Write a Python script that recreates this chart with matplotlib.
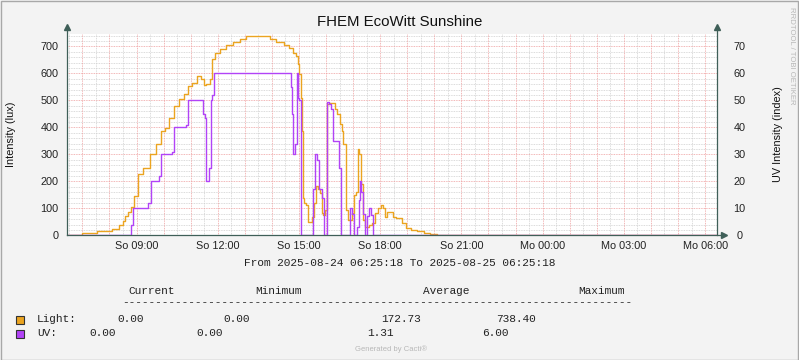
import matplotlib
matplotlib.use("Agg")
import matplotlib.pyplot as plt
from matplotlib.patches import Rectangle
import numpy as np

# time axis in hours since Sunday 00:00 (06:25:18 -> 06:25:18 next day)
t_start = 6 + 25.3 / 60
t_end = t_start + 24

light_t = [t_start, 6.79, 7.16, 7.90, 8.27, 8.46, 8.53, 8.64, 8.72, 8.86, 8.97, 9.12, 9.38,
           9.60, 9.86, 9.97, 10.12, 10.31, 10.49, 10.68, 10.86, 10.97, 11.16, 11.34, 11.45,
           11.53, 11.64, 11.78, 11.82, 12.01, 12.19, 12.45, 12.71, 12.93, 13.19, 13.82, 14.04,
           14.30, 14.56, 14.74, 14.85, 14.93, 15.00, 15.04, 15.11, 15.15, 15.17, 15.19, 15.30,
           15.34, 15.45, 15.52, 15.59, 15.67, 15.74, 15.82, 15.85, 15.93, 16.00, 16.04, 16.15,
           16.26, 16.37, 16.44, 16.56, 16.59, 16.67, 16.78, 16.81, 16.93, 17.00, 17.07, 17.15,
           17.18, 17.26, 17.33, 17.39, 17.52, 17.63, 17.74, 17.89, 17.96, 18.07, 18.15, 18.22,
           18.29, 18.44, 18.52, 18.63, 18.74, 18.85, 19.03, 19.22, 19.48, 19.74, 19.96, 20.22,
           20.33, t_end]
light_v = [0, 2, 7, 15, 22, 40, 52, 70, 85, 105, 145, 228, 250,
           302, 340, 387, 398, 435, 479, 505, 523, 553, 564, 590, 579,
           556, 560, 579, 652, 674, 689, 707, 718, 729, 737, 737, 729,
           718, 707, 693, 674, 663, 634, 597, 509, 387, 140, 118, 111,
           48, 48, 66, 118, 184, 173, 158, 81, 74, 92, 486, 490,
           490, 468, 450, 413, 387, 339, 92, 55, 55, 81, 150, 162,
           321, 300, 192, 55, 29, 37, 44, 81, 103, 111, 103, 66,
           85, 85, 66, 63, 63, 44, 26, 18, 15, 7, 4, 1,
           0, 0]

uv_t = [t_start, 8.75, 8.82, 8.90, 9.38, 9.47, 9.60, 9.82, 9.86, 9.97, 10.31, 10.34, 10.42,
        10.79, 10.86, 10.94, 11.45, 11.49, 11.56, 11.60, 11.67, 11.71, 11.78, 11.82, 11.93,
        14.67, 14.74, 14.78, 14.80, 14.85, 14.89, 14.93, 14.97, 15.04, 15.08, 15.48, 15.55,
        15.63, 15.70, 15.80, 15.89, 15.93, 15.98, 16.06, 16.15, 16.22, 16.26, 16.41, 16.52,
        16.60, 16.85, 16.92, 17.03, 17.07, 17.12, 17.18, 17.22, 17.27, 17.33, 17.41, 17.44,
        17.50, 17.55, 17.61, 17.70, 17.74, t_end]
uv_v = [0, 0, 0.4, 1.0, 1.0, 1.2, 2.0, 2.0, 2.2, 3.0, 3.0, 3.1, 4.0,
        4.0, 4.1, 5.0, 5.0, 4.5, 4.35, 2.0, 2.0, 2.5, 5.0, 5.2, 6.0,
        6.0, 5.5, 4.5, 3.0, 3.0, 3.4, 6.0, 5.1, 5.0, 0, 0, 1.7,
        3.0, 2.8, 1.7, 1.4, 0, 0, 4.95, 4.85, 4.7, 3.5, 3.5, 2.5,
        0, 0, 1.0, 0.8, 0, 0, 0.3, 1.3, 2.0, 1.6, 0.8, 0,
        0, 0.7, 1.0, 0.75, 0, 0]

tick_hours = [9, 12, 15, 18, 21, 24, 27, 30]
tick_labels = ["So 09:00", "So 12:00", "So 15:00", "So 18:00",
               "So 21:00", "Mo 00:00", "Mo 03:00", "Mo 06:00"]

orange = "#EBA420"
purple = "#B243F7"
axis_col = "#3F5F58"
W, H = 799, 360


def fx(px):
    return px / W


def fy(py):
    return 1 - py / H


fig = plt.figure(figsize=(W / 100, H / 100), dpi=100, facecolor="#F3F3F3")
left, right, top, bottom = 66.7, 716.5, 33.5, 235.3
ax = fig.add_axes([fx(left), fy(bottom), (right - left) / W, (bottom - top) / H])
ax.set_facecolor("white")
ax.set_xlim(t_start, t_end)
ax.set_ylim(0, 748)

# grid
for h in np.arange(6.5, 30.5, 1.0):
    ax.axvline(h, color="#CFCFCF", lw=0.6, ls=(0, (1, 1)), zorder=1)
for v in np.arange(20, 748, 20):
    if v % 100:
        ax.axhline(v, color="#CFCFCF", lw=0.6, ls=(0, (1, 1)), zorder=1)
for h in range(7, 31):
    ax.axvline(h, color="#EE9E9E", lw=0.6, ls=(0, (1, 1)), zorder=2)
for v in range(100, 748, 100):
    ax.axhline(v, color="#EE9E9E", lw=0.6, ls=(0, (1, 1)), zorder=2)

ax.plot(light_t, light_v, color=orange, lw=1.0, zorder=3, drawstyle="steps-mid")
ax.plot(uv_t, np.array(uv_v) * 100, color=purple, lw=1.0, zorder=4, drawstyle="steps-mid")

for s in ax.spines.values():
    s.set_visible(False)
ax.set_xticks(tick_hours)
ax.set_xticklabels(tick_labels)
ax.set_yticks(range(0, 701, 100))
ax.tick_params(length=0, labelsize=7.8, colors="#222222")
ax.tick_params(axis="x", pad=4)
ax.tick_params(axis="y", pad=5.8)
for lab in ax.get_xticklabels() + ax.get_yticklabels():
    lab.set_family("Liberation Sans")

ax2 = ax.twinx()
ax2.set_ylim(0, 74.8)
ax2.set_yticks(range(0, 71, 10))
for s in ax2.spines.values():
    s.set_visible(False)
ax2.tick_params(length=0, labelsize=7.8, colors="#222222", pad=16.6)
for lab in ax2.get_yticklabels():
    lab.set_family("Liberation Sans")
    lab.set_ha("center")

# axis lines with arrows
kw = dict(transform=ax.transAxes, clip_on=False, color=axis_col, lw=0.9, zorder=5)
ax.plot([0, 0], [0, 1.02], **kw)
ax.plot([1, 1], [0, 1.02], **kw)
ax.plot([0, 1.01], [0, 0], **kw)
ax.plot([0], [1.03], marker="^", ms=4, transform=ax.transAxes, clip_on=False,
        color=axis_col, zorder=6)
ax.plot([1], [1.03], marker="^", ms=4, transform=ax.transAxes, clip_on=False,
        color=axis_col, zorder=6)
ax.plot([1.012], [0], marker=">", ms=4, transform=ax.transAxes, clip_on=False,
        color=axis_col, zorder=6)

sans = "Liberation Sans"
mono = "Liberation Mono"
fig.text(0.5, fy(22.5), "FHEM EcoWitt Sunshine", ha="center", va="center",
         fontsize=10.8, family=sans, color="#111111")
fig.text(fx(11), fy(134), "Intensity (lux)", rotation=90, ha="center", va="center",
         fontsize=7.8, family=sans, color="#111111")
fig.text(fx(778), fy(134), "UV Intensity (index)", rotation=90, ha="center", va="center",
         fontsize=7.8, family=sans, color="#111111")
fig.text(fx(791), fy(56), "RRDTOOL / TOBI OETIKER", rotation=270, ha="center", va="center",
         fontsize=5.6, family=sans, color="#B8B8B8")

fig.text(0.5, fy(263), "From 2025-08-24 06:25:18 To 2025-08-25 06:25:18", ha="center",
         va="center", fontsize=8, family=mono, color="#222222")

headers = ["Current", "Minimum", "Average", "Maximum"]
header_x = [152, 278, 446, 601]
for hx, txt in zip(header_x, headers):
    fig.text(fx(hx), fy(291), txt, ha="center", va="center", fontsize=8, family=mono,
             color="#222222")
fig.text(fx(122), fy(302), "-" * 77, ha="left", va="center", fontsize=8, family=mono,
         color="#222222")

legend_rows = [
    ("Light:", orange, ["0.00", "0.00", "172.73", "738.40"], [117, 223, 381, 496], 319.5),
    ("UV:", purple, ["0.00", "0.00", "1.31", "6.00"], [89, 196, 367, 482], 333.5),
]
for name, col, vals, xs, yy in legend_rows:
    fig.patches.append(Rectangle((fx(15.5), fy(yy + 4.5)), 8 / W, 8.5 / H, facecolor=col,
                                 edgecolor="#333333", lw=0.8, transform=fig.transFigure,
                                 figure=fig))
    fig.text(fx(37), fy(yy), name, ha="left", va="center", fontsize=8, family=mono,
             color="#222222")
    for vx, v in zip(xs, vals):
        fig.text(fx(vx), fy(yy), v, ha="left", va="center", fontsize=8, family=mono,
                 color="#222222")

fig.text(fx(391), fy(349), "Generated by Cacti®", ha="center", va="center", fontsize=5.5,
         family=sans, color="#B8B8B8")

# image border
fig.patches.append(Rectangle((0.5 / W, 0.5 / H), 1 - 1.5 / W, 1 - 1.5 / H, fill=False,
                             edgecolor="#A8A8A8", lw=1.0, transform=fig.transFigure,
                             figure=fig))

fig.savefig("out.png", dpi=100, facecolor=fig.get_facecolor())
